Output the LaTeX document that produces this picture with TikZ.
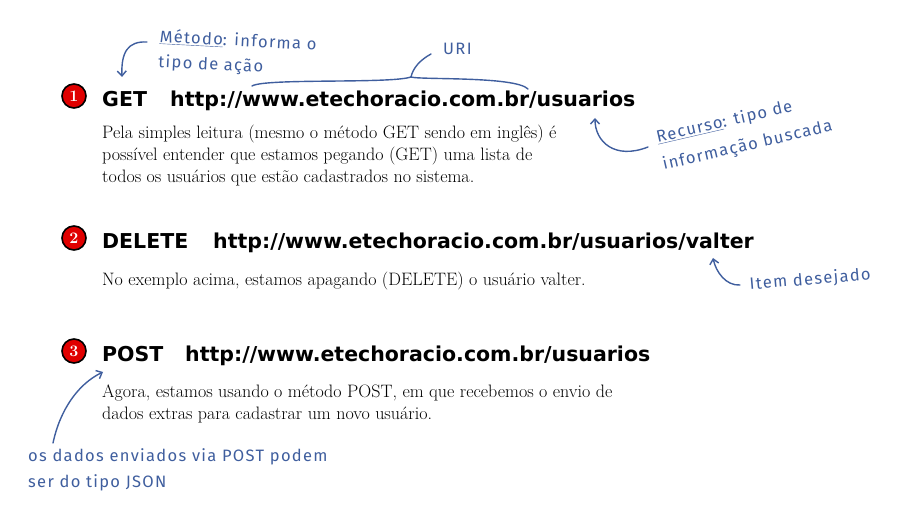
\documentclass[tikz,border=0pt]{standalone}
\usepackage{fontspec}
\usetikzlibrary{arrows.meta}
\newfontfamily\headfont{DejaVu Sans}
\newfontfamily\handfont[LetterSpace=8]{Fira Sans}
\definecolor{notecol}{HTML}{3F5E9E}
\definecolor{numred}{HTML}{E00000}
\tikzset{
  head/.style={anchor=base west,inner sep=0pt,font=\headfont\bfseries\fontsize{20.5}{24}\selectfont},
  body/.style={anchor=base west,inner sep=0pt,align=left,font=\fontsize{18}{22}\selectfont},
  hand/.style={anchor=base west,inner sep=0pt,align=left,text=notecol,font=\handfont\fontsize{16.5}{25}\selectfont},
  numcirc/.style={circle,fill=numred,draw=black,line width=1.6pt,minimum size=24pt,inner sep=0pt,
    text=white,font=\bfseries\fontsize{16}{16}\selectfont},
  noteline/.style={draw=notecol,line width=1.4pt,line cap=round},
  notearrow/.style={noteline,-{Straight Barb[length=5pt,width=9pt]}}
}
\begin{document}
\begin{tikzpicture}[x=1pt,y=-1pt]
\useasboundingbox (0,0) rectangle (900,526);
% numbered circles
\foreach \n/\y in {1/96,2/238,3/351}{\node[numcirc] (num\n) at (74,\y) {\n};}
% 1: GET
\node[head] (get) at (102,107) {GET};
\node[head] (geturl) at (170,107) {http://www.etechoracio.com.br/usuarios};
\node[body] (gettxt) at (102,183) {Pela simples leitura (mesmo o método GET sendo em inglês) é\\
possível entender que estamos pegando (GET) uma lista de\\
todos os usuários que estão cadastrados no sistema.};
% 2: DELETE
\node[head] (del) at (102,249) {DELETE};
\node[head] (delurl) at (213,249) {http://www.etechoracio.com.br/usuarios/valter};
\node[body] (deltxt) at (102,286) {No exemplo acima, estamos apagando (DELETE) o usuário valter.};
% 3: POST
\node[head] (post) at (102,362) {POST};
\node[head] (posturl) at (185,362) {http://www.etechoracio.com.br/usuarios};
\node[body] (posttxt) at (102,420) {Agora, estamos usando o método POST, em que recebemos o envio de\\
dados extras para cadastrar um novo usuário.};
% notes
\node[hand,rotate=-3] (metodo) at (158,67) {\underline{Método}: informa o\\tipo de ação};
\node[hand] (uri) at (443,55) {URI};
\node[hand,rotate=13] (recurso) at (664,170) {\underline{Recurso}: tipo de\\[3pt]informação buscada};
\node[hand,rotate=5] (item) at (750,290) {Item desejado};
\node[hand] (json) at (28,487) {os dados enviados via POST podem\\ser do tipo JSON};
% arrows and brace
\coordinate (metodoTail) at (147,42);
\coordinate (metodoTip) at (122,77);
\draw[notearrow] (metodoTail) .. controls (128,41) and (121,52) .. (metodoTip);
\coordinate (braceL) at (252,86);
\coordinate (braceTip) at (411,77);
\coordinate (braceR) at (528,89);
\coordinate (uriEnd) at (431,54);
\draw[noteline] (braceL) .. controls (265,78) and (390,84) .. (braceTip)
  .. controls (413,68) and (420,60) .. (uriEnd);
\draw[noteline] (braceTip) .. controls (420,80) and (515,76) .. (braceR);
\coordinate (recursoTail) at (648,147);
\coordinate (recursoTip) at (595,118);
\draw[notearrow] (recursoTail) .. controls (615,160) and (595,142) .. (recursoTip);
\coordinate (itemTail) at (740,285);
\coordinate (itemTip) at (713,258);
\draw[notearrow] (itemTail) .. controls (726,286) and (716,272) .. (itemTip);
\coordinate (jsonTail) at (53,443);
\coordinate (jsonTip) at (103,372);
\draw[notearrow] (jsonTail) .. controls (60,410) and (78,384) .. (jsonTip);
\end{tikzpicture}
\end{document}
